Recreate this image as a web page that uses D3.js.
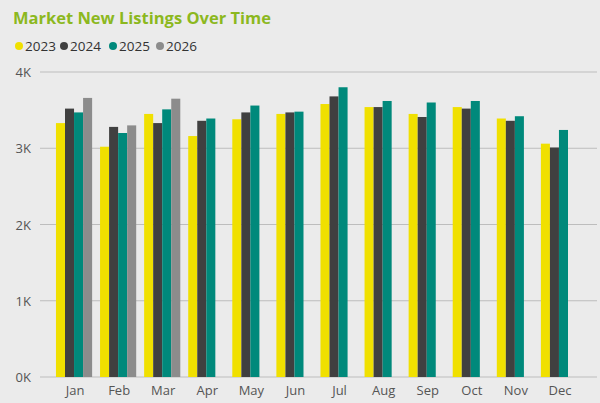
<!DOCTYPE html>
<html>
<head>
<meta charset="utf-8">
<script src="https://cdn.jsdelivr.net/npm/d3@7"></script>
<style>
  body { margin: 0; background: #ebebeb; }
  svg { display: block; font-family: "Open Sans", "Noto Sans", sans-serif; }
</style>
</head>
<body>
<svg id="chart" width="600" height="403"></svg>
<script>
var months = ["Jan", "Feb", "Mar", "Apr", "May", "Jun", "Jul", "Aug", "Sep", "Oct", "Nov", "Dec"];
var years = ["2023", "2024", "2025", "2026"];
var colors = ["#f0e000", "#404040", "#00897b", "#8c8c8c"];
var values2023 = [3330, 3020, 3450, 3160, 3380, 3450, 3580, 3540, 3450, 3540, 3390, 3060];
var values2024 = [3520, 3280, 3330, 3360, 3470, 3470, 3680, 3540, 3410, 3520, 3360, 3010];
var values2025 = [3470, 3200, 3510, 3390, 3560, 3480, 3800, 3620, 3600, 3620, 3420, 3240];
var values2026 = [3660, 3300, 3650, null, null, null, null, null, null, null, null, null];
var yTicks = [0, 1000, 2000, 3000, 4000];

var series = [values2023, values2024, values2025, values2026];

var svg = d3.select("#chart");

svg.append("text")
  .attr("x", 13).attr("y", 24)
  .attr("font-size", 16.5).attr("font-weight", "bold")
  .attr("fill", "#8cb81e")
  .text("Market New Listings Over Time");

// legend
var legendX = [19, 64, 113, 160];
var legend = svg.selectAll("g.legend").data(years).enter()
  .append("g").attr("class", "legend")
  .attr("transform", function(d, i){ return "translate(" + legendX[i] + ",46)"; });
legend.append("circle").attr("r", 4).attr("fill", function(d, i){ return colors[i]; });
legend.append("text").attr("x", 6).attr("y", 4.5)
  .attr("font-size", 13.5).attr("fill", "#333").text(function(d){ return d; });

var y = d3.scaleLinear().domain([0, 4000]).range([377, 72]);
var x = d3.scaleBand().domain(months).range([52, 581]).paddingInner(0.18).paddingOuter(0.09);
var xs = d3.scaleBand().domain(years).range([0, x.bandwidth()]);

// gridlines and y labels
svg.selectAll("line.grid").data(yTicks).enter()
  .append("line").attr("class", "grid")
  .attr("x1", 40).attr("x2", 597)
  .attr("y1", function(d){ return y(d); }).attr("y2", function(d){ return y(d); })
  .attr("stroke", "#bdbdbd").attr("stroke-width", 1);

svg.selectAll("text.ytick").data(yTicks).enter()
  .append("text").attr("class", "ytick")
  .attr("x", 31).attr("y", function(d){ return y(d) + 5; })
  .attr("text-anchor", "end").attr("font-size", 13).attr("fill", "#555")
  .text(function(d){ return (d / 1000) + "K"; });

// bars
var groups = svg.selectAll("g.month").data(months).enter()
  .append("g").attr("class", "month")
  .attr("transform", function(d){ return "translate(" + x(d) + ",0)"; });

groups.selectAll("rect")
  .data(function(m, mi){
    return years.map(function(yr, si){ return { year: yr, si: si, v: series[si][mi] }; })
      .filter(function(d){ return d.v != null; });
  })
  .enter().append("rect")
  .attr("x", function(d){ return xs(d.year); })
  .attr("width", xs.bandwidth())
  .attr("y", function(d){ return y(d.v); })
  .attr("height", function(d){ return y(0) - y(d.v); })
  .attr("fill", function(d){ return colors[d.si]; });

// x labels
svg.selectAll("text.xtick").data(months).enter()
  .append("text").attr("class", "xtick")
  .attr("x", function(d){ return x(d) + x.bandwidth() / 2 + 1; })
  .attr("y", 395)
  .attr("text-anchor", "middle").attr("font-size", 13).attr("fill", "#555")
  .text(function(d){ return d; });
</script>
</body>
</html>
